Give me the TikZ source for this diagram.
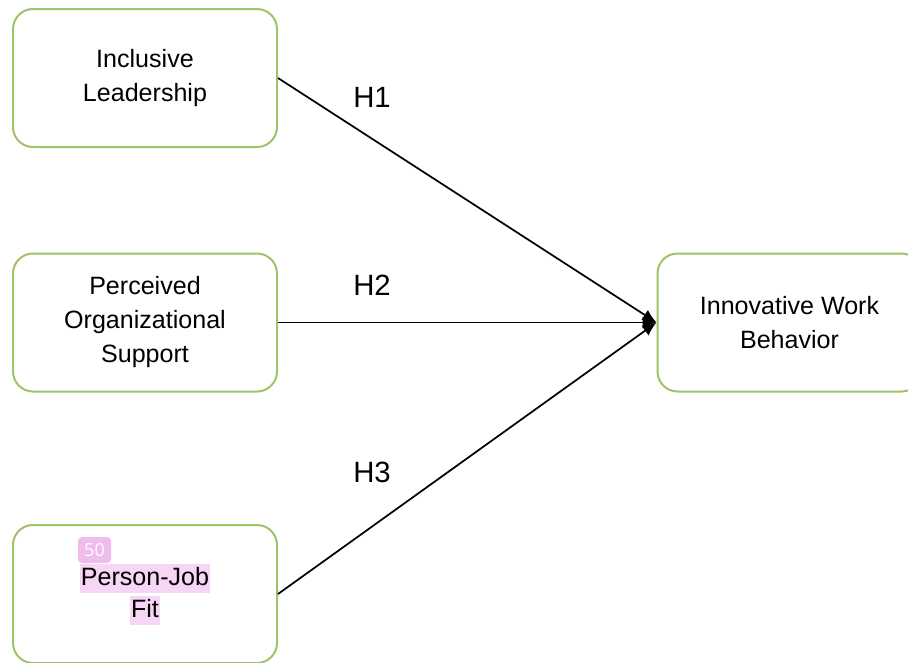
\documentclass[tikz,border=0pt]{standalone}
\usepackage{fontspec}
\setmainfont{Liberation Sans}
\newfontfamily\tagfont{Open Sans}
\usetikzlibrary{arrows.meta}
\definecolor{boxgreen}{RGB}{160,194,104}
\definecolor{badgepink}{RGB}{240,188,238}
\definecolor{hlpink}{RGB}{246,214,244}
\setlength{\fboxsep}{0pt}
% highlighted line of text
\newcommand\hlline[1]{\colorbox{hlpink}{\rule[-5.25pt]{0pt}{21.75pt}\hspace{1pt}#1\hspace{1pt}}}
\begin{document}
\begin{tikzpicture}[x=0.75pt,y=-0.75pt,
  factorbox/.style={draw=boxgreen, line width=1.5pt, fill=white, rounded corners=15pt,
    minimum width=198pt, minimum height=103.5pt, align=center, inner sep=0pt,
    font=\fontsize{18.8}{25.5}\selectfont},
  hyplabel/.style={font=\fontsize{22}{26}\selectfont, inner sep=0pt},
  badge/.style={fill=badgepink, rounded corners=3pt, minimum width=24.75pt,
    minimum height=19.5pt, inner sep=0pt, text=white, font=\tagfont\fontsize{13.5}{14}\selectfont},
  link/.style={line width=1.3pt, -{Latex[length=10.5pt,width=9pt]}}
]
\useasboundingbox (0,0) rectangle (908,662);

% construct boxes
\node[factorbox] (il)  at (145,78)    {Inclusive\\Leadership};
\node[factorbox] (pos) at (145,322.5) {Perceived\\Organizational\\Support};
\node[factorbox, font=\fontsize{18.8}{24}\selectfont] (pjf) at (145,594) {\hlline{Person-Job}\\\hlline{Fit}};
\node[factorbox] (iwb) at (789.5,322.5) {Innovative Work\\Behavior};

% tag on the person-job fit box
\node[badge] (tag) at (94.5,550) {50};

% hypothesised paths
\draw[link] (il.east)  -- (iwb.west);
\draw[link] (pos.east) -- (iwb.west);
\draw[link] (pjf.east) -- (iwb.west);

% path labels
\node[hyplabel] (h1) at (372,97)  {H1};
\node[hyplabel] (h2) at (372,285) {H2};
\node[hyplabel] (h3) at (372,472) {H3};
\end{tikzpicture}
\end{document}
